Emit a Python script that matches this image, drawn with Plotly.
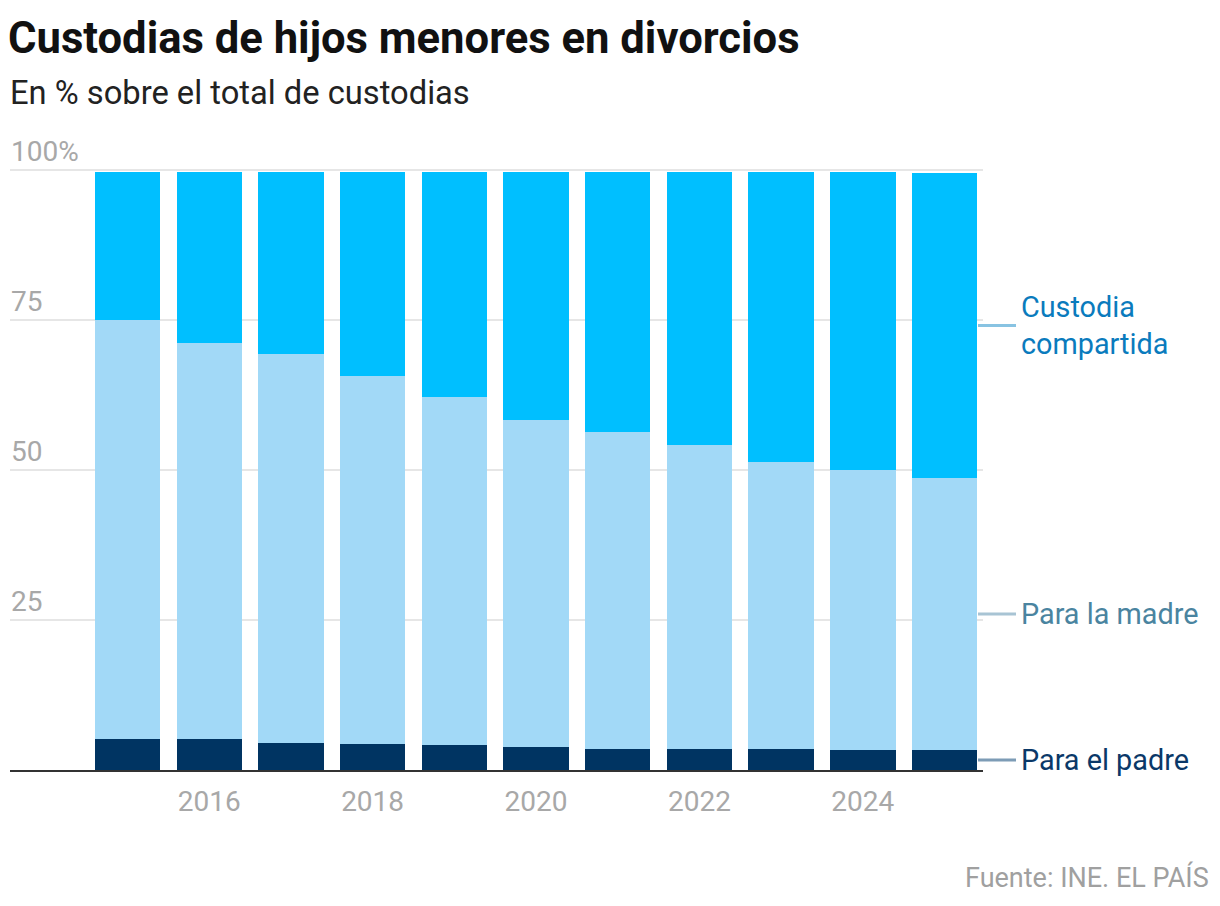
import plotly.graph_objects as go

years = [2015, 2016, 2017, 2018, 2019, 2020, 2021, 2022, 2023, 2024, 2025]
padre = [5.2, 5.2, 4.5, 4.3, 4.2, 3.8, 3.5, 3.5, 3.5, 3.3, 3.3]
madre = [69.8, 66.0, 64.9, 61.4, 58.0, 54.5, 52.8, 50.7, 47.8, 46.7, 45.4]
compartida = [24.7, 28.5, 30.3, 34.0, 37.5, 41.4, 43.4, 45.5, 48.4, 49.7, 50.8]

series_names = ["Para el padre", "Para la madre", "Custodia<br>compartida"]
bar_colors = ["#003462", "#a2d9f7", "#00bfff"]
label_colors = ["#0a3868", "#4a84a0", "#0a7bbd"]
leader_colors = ["#7d9cb6", "#a8c4d4", "#88c3e2"]

y_ticks = [25, 50, 75, 100]
y_ticktext = ["25", "50", "75", "100%"]
x_ticks = [2016, 2018, 2020, 2022, 2024]

BODY = "Roboto, 'Liberation Sans', sans-serif"
TITLE = "Roboto, 'Liberation Sans', sans-serif"

X_RANGE = [2013.562, 2025.471]
Y_RANGE = [0, 106]
PX_PER_UNIT = 6.0
BOTTOM_PX = 770
PLOT_H = PX_PER_UNIT * (Y_RANGE[1] - Y_RANGE[0])


def xp(d):
    return (d - X_RANGE[0]) / (X_RANGE[1] - X_RANGE[0])


def yp(v):
    return (v - Y_RANGE[0]) / (Y_RANGE[1] - Y_RANGE[0])


def ypix(py):
    return (BOTTOM_PX - py) / PLOT_H


fig = go.Figure()
for name, vals, col in zip(series_names, [padre, madre, compartida], bar_colors):
    fig.add_trace(go.Bar(x=years, y=vals, name=name, marker=dict(color=col, line=dict(width=0)),
                         hoverinfo="x+y+name"))

# labels at midpoint of the last bar's segments
last = -1
bottoms = [0, padre[last], padre[last] + madre[last]]
tops = [padre[last], padre[last] + madre[last], padre[last] + madre[last] + compartida[last]]
x_last = years[last]
for name, b, t, lc, ld in zip(series_names, bottoms, tops, label_colors, leader_colors):
    mid = (b + t) / 2
    fig.add_shape(type="line", xref="paper", yref="paper", x0=xp(x_last + 0.41), x1=xp(x_last + 0.875),
                  y0=yp(mid), y1=yp(mid), line=dict(color=ld, width=3))
    fig.add_annotation(x=xp(x_last + 0.915), y=yp(mid), xref="paper", yref="paper", text=name,
                       showarrow=False, xanchor="left", yanchor="middle", align="left",
                       font=dict(family=BODY, size=28.8, color=lc))

fig.update_layout(
    width=1220, height=906,
    margin=dict(l=10, r=237, t=int(906 - 136 - PLOT_H), b=136),
    paper_bgcolor="white", plot_bgcolor="white",
    barmode="stack", bargap=0.2, showlegend=False,
    title=dict(text="<b>Custodias de hijos menores en divorcios</b>", x=8 / 1220, xref="container",
               xanchor="left", yanchor="middle", yref="container", y=1 - 38 / 906,
               font=dict(family=TITLE, size=43.6, color="#111111")),
)

fig.add_annotation(text="En % sobre el total de custodias", xref="paper", yref="paper",
                   x=-0.002, y=ypix(93), xanchor="left", yanchor="middle", showarrow=False,
                   font=dict(family=BODY, size=32.7, color="#222222"))
fig.add_annotation(text="Fuente: INE. EL PAÍS", xref="paper", yref="paper",
                   x=(1211 - 10) / 973, y=ypix(877), xanchor="right", yanchor="middle",
                   showarrow=False, font=dict(family=BODY, size=27, color="#a0a0a0"))

fig.update_xaxes(range=X_RANGE, tickmode="array", tickvals=x_ticks,
                 ticks="", showgrid=False, zeroline=False, showline=True, linecolor="#333333",
                 linewidth=2, ticklabelstandoff=5,
                 tickfont=dict(family=BODY, size=28, color="#a8a8a8"))
fig.update_yaxes(range=Y_RANGE, tickmode="array", tickvals=y_ticks, ticktext=y_ticktext,
                 showgrid=True, gridcolor="#e6e6e6", gridwidth=2, zeroline=False, showline=False,
                 ticks="", ticklabelposition="inside", ticklabelshift=-19, ticklabelstandoff=-2,
                 tickfont=dict(family=BODY, size=28, color="#a8a8a8"))

fig.write_html("out.html")
